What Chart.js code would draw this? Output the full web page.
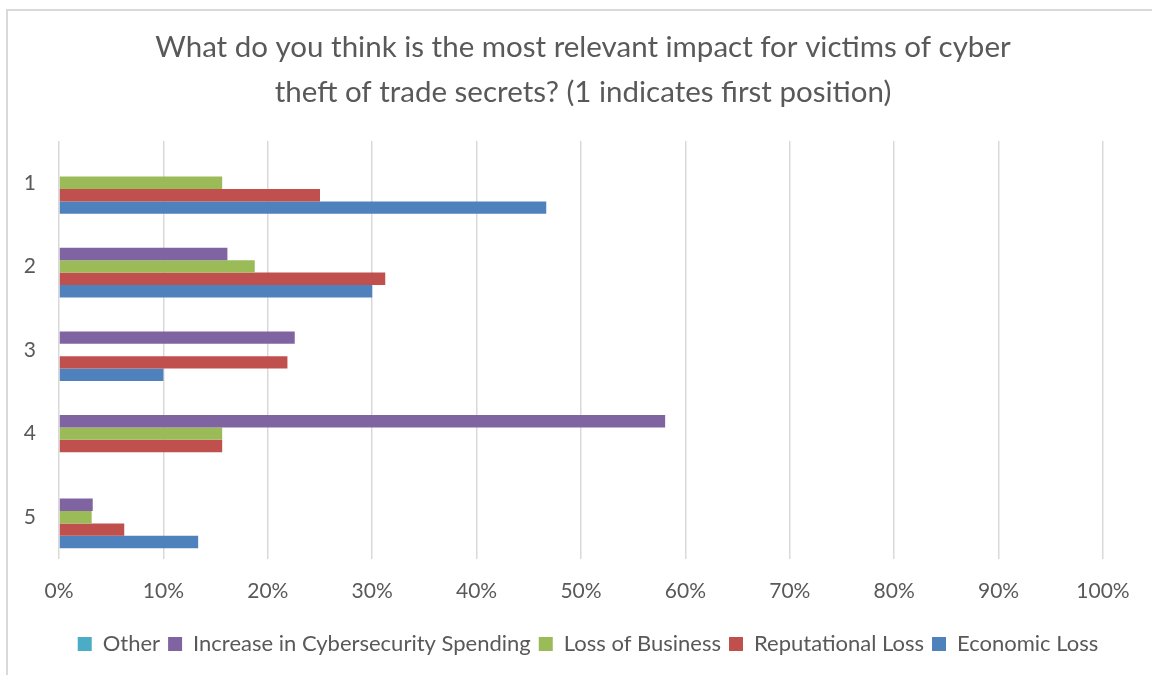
<!DOCTYPE html>
<html>
<head>
<meta charset="utf-8">
<script src="https://cdn.jsdelivr.net/npm/chart.js@4"></script>
<style>
  html, body { margin: 0; padding: 0; background: #ffffff; }
  #wrap { position: relative; width: 1152px; height: 675px; }
  canvas { display: block; }
</style>
</head>
<body>
<div id="wrap"><canvas id="c" width="1152" height="675"></canvas></div>
<script>
// Ranking positions (1 = first position)
const positions = ['1', '2', '3', '4', '5'];

// Share of respondents per position, in percent
const otherPct = [0, 0, 0, 0, 0];
const spendingPct = [0, 16.13, 22.58, 58.06, 3.23];
const businessPct = [15.63, 18.75, 0, 15.63, 3.13];
const reputationPct = [25.0, 31.25, 21.88, 15.63, 6.25];
const economicPct = [46.67, 30.0, 10.0, 0, 13.33];

// Axis ticks along the value axis
const pctTicks = [0, 10, 20, 30, 40, 50, 60, 70, 80, 90, 100];

const titleLines = [
  'What do you think is the most relevant impact for victims of cyber',
  'theft of trade secrets? (1 indicates first position)'
];

const TEXT = '#595959';
const FONT = 'Lato, "Open Sans", sans-serif';

// Light frame along the top and left edges of the chart
const framePlugin = {
  id: 'frame',
  beforeDraw(chart) {
    const ctx = chart.ctx;
    ctx.save();
    ctx.strokeStyle = '#d9d9d9';
    ctx.lineWidth = 2;
    ctx.beginPath();
    ctx.moveTo(7, 675);
    ctx.lineTo(7, 10);
    ctx.lineTo(1152, 10);
    ctx.stroke();
    ctx.restore();
  }
};

// Centre the title and legend over the plot rather than the padded canvas
const centreBoxesPlugin = {
  id: 'centreBoxes',
  afterLayout(chart) {
    if (chart.titleBlock) { chart.titleBlock.left = 14; chart.titleBlock.right = 1152; }
    if (chart.legend) { chart.legend.left = 24; chart.legend.right = 1152; }
  }
};

new Chart(document.getElementById('c'), {
  type: 'bar',
  data: {
    labels: positions,
    datasets: [
      { label: 'Other', data: otherPct, backgroundColor: '#4bacc6' },
      { label: 'Increase in Cybersecurity Spending', data: spendingPct, backgroundColor: '#8064a2' },
      { label: 'Loss of Business', data: businessPct, backgroundColor: '#9bbb59' },
      { label: 'Reputational Loss', data: reputationPct, backgroundColor: '#c0504d' },
      { label: 'Economic Loss', data: economicPct, backgroundColor: '#4f81bd' }
    ]
  },
  options: {
    indexAxis: 'y',
    responsive: false,
    animation: false,
    devicePixelRatio: 1,
    categoryPercentage: 0.742,
    barPercentage: 1.0,
    layout: { padding: { left: 0, right: 49, top: 0, bottom: 10 } },
    scales: {
      x: {
        min: 0,
        max: 100,
        afterBuildTicks(scale) {
          scale.ticks = pctTicks.map(v => ({ value: v }));
        },
        afterFit(scale) { scale.height = 66; },
        grid: { color: '#d9d9d9', lineWidth: 1.5, drawTicks: false },
        border: { display: false },
        ticks: {
          padding: 20,
          color: TEXT,
          font: { family: FONT, size: 21 },
          callback: v => v + '%'
        }
      },
      y: {
        afterFit(scale) { scale.width = 59; },
        grid: { display: false, drawTicks: false },
        border: { display: false },
        ticks: {
          padding: 23,
          color: TEXT,
          font: { family: FONT, size: 21 }
        }
      }
    },
    plugins: {
      title: {
        display: true,
        text: titleLines,
        color: TEXT,
        font: { family: FONT, size: 29.5, weight: 'normal', lineHeight: '45px' },
        padding: { top: 25, bottom: 26 }
      },
      legend: {
        position: 'bottom',
        labels: {
          color: TEXT,
          font: { family: FONT, size: 22 },
          boxWidth: 14,
          boxHeight: 14,
          padding: 8
        }
      },
      tooltip: { enabled: false }
    }
  },
  plugins: [framePlugin, centreBoxesPlugin]
});
</script>
</body>
</html>
